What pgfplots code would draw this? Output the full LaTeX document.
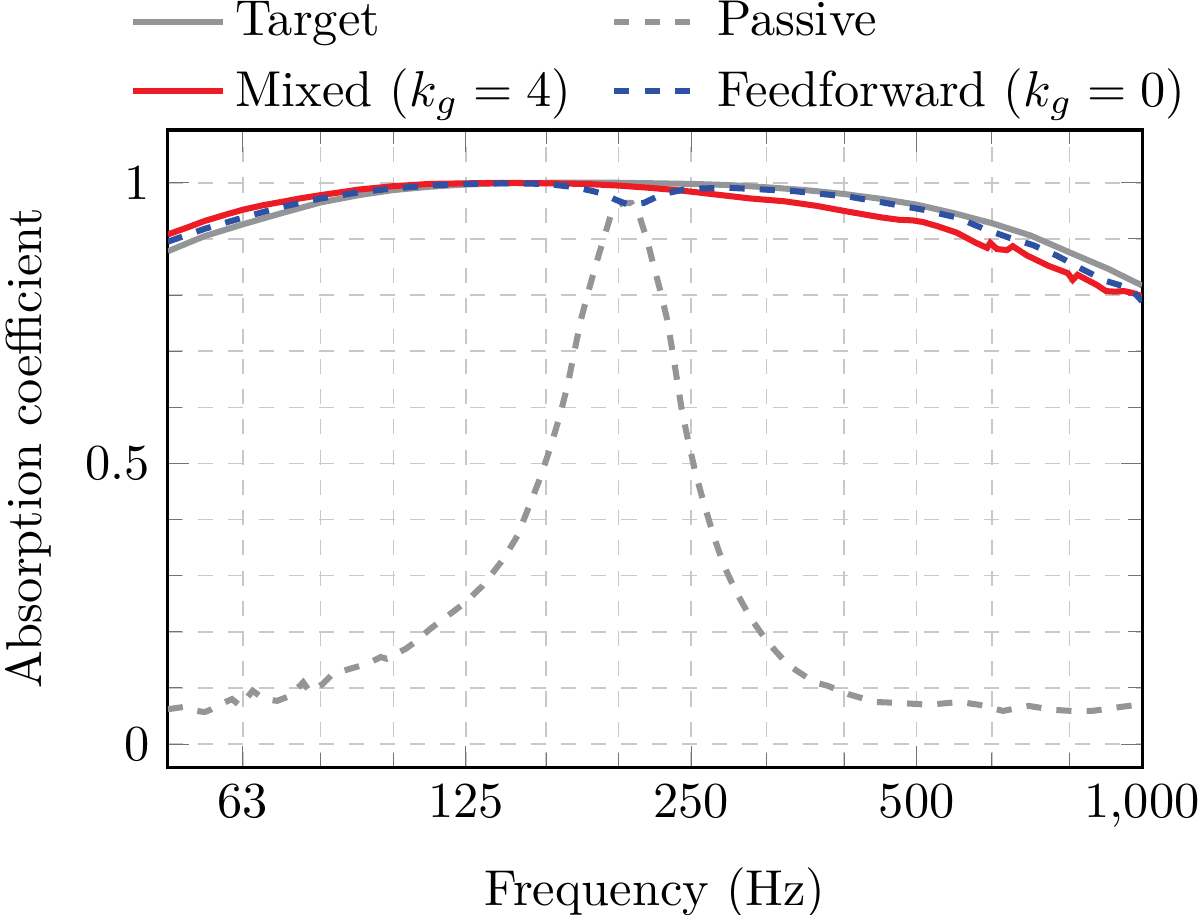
\documentclass[border=0pt]{standalone}
\usepackage{pgfplots}
\pgfplotsset{compat=1.18}
\definecolor{tgray}{RGB}{148,149,152}
\definecolor{mred}{RGB}{237,28,36}
\definecolor{fblue}{RGB}{46,82,163}
\definecolor{gridc}{RGB}{200,200,200}
\begin{document}
\begin{tikzpicture}
\begin{semilogxaxis}[
 scale only axis, width=193.3pt, height=126.4pt,
 xmin=50, xmax=1000, ymin=-0.041, ymax=1.094,
 xtick={63,125,250,500,1000},
 xticklabels={$63$,$125$,$250$,$500$,$1{,}000$},
 minor xtick={80,100,160,200,315,400,630,800},
 ytick={0,0.5,1},
 minor ytick={0.1,0.2,0.3,0.4,0.6,0.7,0.8,0.9},
 grid=both,
 grid style={dashed, gridc, line width=0.3pt},
 major grid style={dashed, gridc, line width=0.3pt},
 minor grid style={dashed, gridc, line width=0.3pt},
 tick style={black!55},
 axis line style={line width=0.6pt},
 xlabel={Frequency (Hz)}, ylabel={Absorption coefficient},
 xlabel style={yshift=-1.2pt},
 legend columns=2,
 legend cell align=left,
 legend image code/.code={\draw[#1] (0pt,0pt) -- (17.8pt,0pt);},
 legend style={draw=none, fill=none, at={(0.5,1)}, anchor=south, yshift=-1pt, xshift=1.5pt,
   row sep=1pt,
   /tikz/every even column/.append style={column sep=6pt}},
]
\addplot[tgray, line width=1.2pt] coordinates {
(50,0.878) (56,0.905) (63,0.926) (71,0.946) (80,0.965) (90,0.978) (100,0.987)
(112,0.993) (125,0.997) (140,0.999) (160,1.0) (180,1.0) (200,1.0) (225,0.999)
(250,0.998) (280,0.996) (315,0.992) (355,0.987) (400,0.980) (450,0.971)
(500,0.961) (560,0.946) (630,0.928) (710,0.906) (800,0.876) (900,0.847) (1000,0.817)
};
\addlegendentry{Target}
\addplot[tgray, line width=1.2pt, dashed] coordinates {
(50,0.062) (52.4,0.066) (54,0.060) (56,0.057) (57.2,0.062) (59,0.072) (60.9,0.080)
(62.5,0.068) (64.9,0.095) (67.2,0.080) (70,0.077) (72.9,0.086) (75.8,0.110)
(77.4,0.093) (80.5,0.107) (83,0.125) (87.5,0.134) (92.3,0.143) (96.2,0.155)
(98,0.152) (104,0.170) (107,0.182) (112,0.205) (120,0.235) (125,0.253)
(131.6,0.282) (140.4,0.330) (146.5,0.371) (152,0.425) (157,0.473) (162,0.527)
(167,0.586) (171,0.640) (174,0.690) (178,0.755) (183,0.815) (188,0.870)
(192,0.910) (195,0.940) (198,0.955) (202,0.964) (208,0.964) (213.5,0.938)
(218.5,0.896) (222.5,0.854) (227.4,0.807) (232,0.758) (236,0.700) (239.5,0.646)
(243,0.593) (247.8,0.539) (253,0.486) (259.5,0.432) (267.8,0.371) (276.4,0.318)
(287,0.271) (300.6,0.223) (316,0.182) (336.7,0.141) (365,0.110) (380,0.104)
(405,0.089) (440,0.075) (478,0.073) (519,0.070) (570,0.075) (606,0.070)
(652,0.059) (706,0.068) (760,0.061) (805,0.059) (858,0.059) (935,0.066) (1000,0.071)
};
\addlegendentry{Passive}
\addplot[mred, line width=1.2pt] coordinates {
(50,0.908) (53,0.920) (56,0.932) (60,0.944) (63,0.952) (67,0.960) (71,0.966)
(75,0.972) (80,0.978) (85,0.983) (90,0.988) (95,0.991) (100,0.994) (106,0.996)
(112,0.998) (125,0.999) (140,1.0) (160,0.999) (180,0.998) (200,0.995) (220,0.991)
(243,0.986) (270,0.979) (300,0.972) (333,0.967) (367,0.959) (407,0.948)
(450,0.938) (474,0.934) (494,0.933) (510,0.930) (532,0.923) (566,0.911)
(600,0.893) (621,0.884) (627,0.893) (640,0.882) (660,0.880) (672,0.887)
(701,0.871) (750,0.852) (796,0.839) (808,0.827) (820,0.836) (870,0.818)
(895,0.807) (920,0.806) (946,0.807) (970,0.804) (1000,0.798)
};
\addlegendentry{Mixed ($k_g=4$)}
\addplot[fblue, line width=1.2pt, dashed] coordinates {
(50,0.895) (56,0.918) (63,0.938) (71,0.957) (80,0.972) (90,0.983) (100,0.990)
(112,0.995) (125,0.998) (141,0.999) (160,0.998) (175,0.992) (185,0.985)
(192,0.979) (198,0.970) (206,0.961) (216,0.964) (229,0.980) (243,0.987)
(259,0.990) (281,0.991) (312,0.988) (344,0.985) (380,0.979) (407,0.975)
(450,0.965) (510,0.952) (566,0.938) (615,0.918) (665,0.902) (715,0.889)
(770,0.870) (832,0.846) (895,0.825) (964,0.812) (1000,0.789)
};
\addlegendentry{Feedforward ($k_g=0$)}
\coordinate (sw) at (rel axis cs:0,0);
\coordinate (ne) at (rel axis cs:1,1);
\end{semilogxaxis}
\pgfresetboundingbox
\path[use as bounding box] ([xshift=-33.3pt,yshift=-29.2pt]sw) rectangle ([xshift=11.5pt,yshift=25.8pt]ne);
\end{tikzpicture}
\end{document}
